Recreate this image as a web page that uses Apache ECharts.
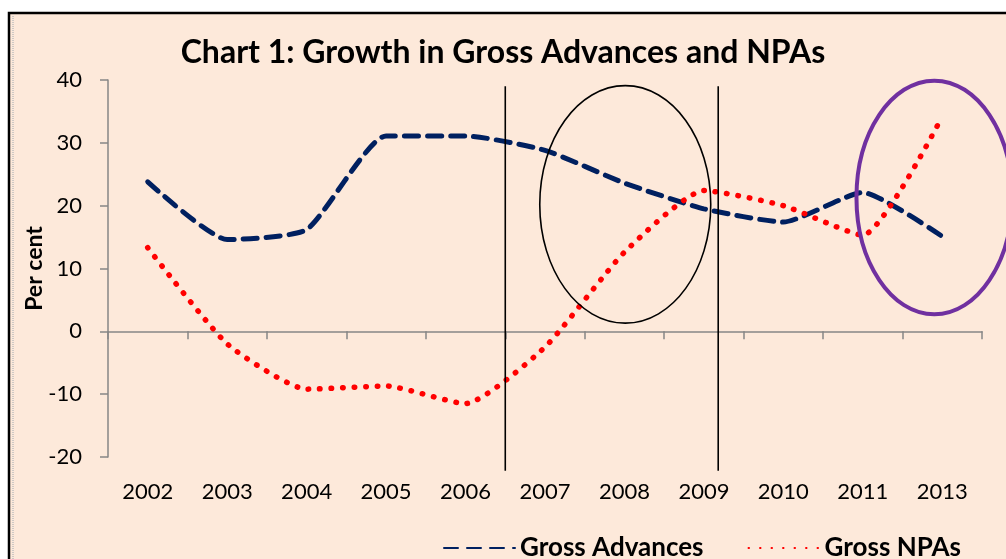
<!DOCTYPE html>
<html>
<head>
<meta charset="utf-8">
<script src="https://cdn.jsdelivr.net/npm/echarts@6/dist/echarts.min.js"></script>
<style>
  html, body { margin: 0; padding: 0; background: #fff; }
  #chart { width: 1006px; height: 559px; }
</style>
</head>
<body>
<div id="chart"></div>
<script>
// data
const years = ["2002", "2003", "2004", "2005", "2006", "2007", "2008", "2009", "2010", "2011", "2013"];
const grossAdvances = [23.8, 14.6, 16.2, 31.1, 31.1, 28.8, 23.6, 19.5, 17.4, 22.1, 15.1];
const grossNPAs = [13.3, -2.0, -9.2, -8.7, -11.5, -2.5, 12.6, 22.4, 20.0, 15.3, 34.2];
const yTicks = { min: -20, max: 40, step: 10 };

// annotations drawn on top (category position, value)
const guideLines = [4.5, 7.18];
const guideSpan = [39, -22.2];
const ovals = [
  { at: [6.01, 20.2], rx: 1.076, ry: 18.9, color: "#000000", width: 1.6 },
  { at: [9.9, 21.3], rx: 0.98, ry: 18.6, color: "#7030A0", width: 4 },
];

const FONT = "Lato, 'Open Sans', sans-serif";
const AXIS_GRAY = "#868686";

let chart = echarts.init(document.getElementById("chart"));

chart.setOption({
  backgroundColor: "#ffffff",
  animation: false,
  title: {
    text: "Chart 1: Growth in Gross Advances and NPAs",
    left: "center",
    top: 32,
    textStyle: { fontFamily: FONT, fontWeight: "bold", fontSize: 32, color: "#000" },
  },
  legend: {
    left: 438,
    top: 530,
    itemWidth: 71,
    itemHeight: 10,
    itemGap: 44,
    itemStyle: { opacity: 0 },
    textStyle: { fontFamily: FONT, fontWeight: "bold", fontSize: 26, color: "#000" },
    data: ["Gross Advances", "Gross NPAs"],
  },
  grid: { left: 108, right: 24, top: 80, bottom: 102 },
  xAxis: [
    {
      type: "category",
      data: years,
      boundaryGap: true,
      position: "bottom",
      axisLine: { onZero: true, lineStyle: { color: AXIS_GRAY, width: 1.5 } },
      axisTick: { show: true, length: 8, lineStyle: { color: AXIS_GRAY, width: 1.5 } },
      axisLabel: { show: false },
      splitLine: { show: false },
    },
    {
      type: "category",
      data: years,
      boundaryGap: true,
      position: "bottom",
      axisLine: { show: false, onZero: false },
      axisTick: { show: false },
      axisLabel: { margin: 24, fontFamily: FONT, fontSize: 22, color: "#000" },
      splitLine: { show: false },
    },
  ],
  yAxis: {
    type: "value",
    min: yTicks.min,
    max: yTicks.max,
    interval: yTicks.step,
    name: "Per cent",
    nameLocation: "middle",
    nameGap: 62,
    nameMoveOverlap: false,
    nameTextStyle: { fontFamily: FONT, fontWeight: "bold", fontSize: 23, color: "#000" },
    axisLine: { show: true, lineStyle: { color: AXIS_GRAY, width: 1.5 } },
    axisTick: { show: true, length: 8, lineStyle: { color: AXIS_GRAY, width: 1.5 } },
    axisLabel: { margin: 26, fontFamily: FONT, fontSize: 22, color: "#000" },
    splitLine: { show: false },
  },
  series: [
    {
      name: "Gross Advances",
      type: "line",
      data: grossAdvances,
      smooth: 0.18,
      symbol: "none",
      itemStyle: { color: "#002060" },
      lineStyle: { color: "#002060", width: 5, type: [14, 9], cap: "round" },
      z: 3,
    },
    {
      name: "Gross NPAs",
      type: "line",
      data: grossNPAs,
      smooth: 0.18,
      symbol: "none",
      itemStyle: { color: "#FF0000" },
      lineStyle: { color: "#FF0000", width: 5.5, type: [0.5, 11], cap: "round" },
      z: 3,
    },
  ],
});

// chart frame and annotations, placed through the axes
function drawExtras() {
  let p0 = chart.convertToPixel({ xAxisIndex: 0, yAxisIndex: 0 }, [0, 0]);
  let p1 = chart.convertToPixel({ xAxisIndex: 0, yAxisIndex: 0 }, [1, 0]);
  let step = p1[0] - p0[0];
  let px = (idx, val) => [
    p0[0] + idx * step,
    chart.convertToPixel({ yAxisIndex: 0 }, val),
  ];
  let pyStep = Math.abs(px(0, 1)[1] - px(0, 0)[1]);

  let elements = [
    {
      type: "rect",
      z: -10,
      shape: { x: 9, y: 13, width: 1010, height: 560 },
      style: { fill: "#FDE9DA", stroke: "#000", lineWidth: 2.5 },
    },
    {
      type: "line",
      z: -9,
      shape: { x1: 13, y1: 16, x2: 13, y2: 559 },
      style: { stroke: "#bdbdbd", lineWidth: 1.5, lineDash: [1, 1] },
    },
  ];

  guideLines.forEach((pos) => {
    let a = px(pos, guideSpan[0]);
    let b = px(pos, guideSpan[1]);
    elements.push({
      type: "line",
      z: 100,
      shape: { x1: a[0], y1: a[1], x2: b[0], y2: b[1] },
      style: { stroke: "#000", lineWidth: 1.6 },
    });
  });

  ovals.forEach((o) => {
    let c = px(o.at[0], o.at[1]);
    elements.push({
      type: "ellipse",
      z: 100,
      shape: { cx: c[0], cy: c[1], rx: o.rx * step, ry: o.ry * pyStep },
      style: { fill: null, stroke: o.color, lineWidth: o.width },
    });
  });

  chart.setOption({ graphic: { elements: elements } });
}

drawExtras();

window.addEventListener("resize", () => {
  chart.resize();
});
</script>
</body>
</html>
